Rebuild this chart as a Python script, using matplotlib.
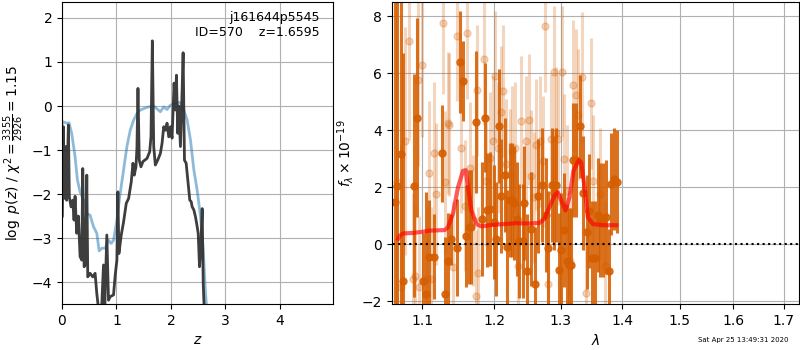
import numpy as np
import matplotlib
matplotlib.use('Agg')
import matplotlib.pyplot as plt
from matplotlib.ticker import NullLocator, FixedLocator, FixedFormatter

# p(z) curves (left panel)
pz_z = [0.006, 0.025, 0.037, 0.055, 0.068, 0.086, 0.117, 0.135, 0.166, 0.197, 0.221, 0.240,
        0.270, 0.301, 0.332, 0.363, 0.381, 0.406, 0.436, 0.455, 0.473, 0.516, 0.565, 0.608,
        0.639, 0.670, 0.731, 0.762, 0.786, 0.823, 0.854, 0.885, 0.946, 0.977, 1.008, 1.026,
        1.045, 1.088, 1.131, 1.180, 1.223, 1.272, 1.303, 1.327, 1.358, 1.376, 1.395, 1.419,
        1.450, 1.487, 1.561, 1.610, 1.634, 1.659, 1.684, 1.714, 1.757, 1.806, 1.837, 1.868,
        1.899, 1.929, 1.960, 1.991, 2.021, 2.040, 2.058, 2.083, 2.101, 2.126, 2.144, 2.175,
        2.206, 2.224, 2.249, 2.280, 2.310, 2.347, 2.372, 2.390, 2.421, 2.452, 2.482, 2.501,
        2.525, 2.550, 2.574, 2.593, 2.617]
pz_logp = [-2.5, -0.47, -2.1, -2.05, -0.92, -2.14, -0.43, -2.06, -2.29, -2.14, -2.59, -2.05,
           -2.89, -2.5, -3.42, -3.5, -1.42, -3.65, -3.58, -1.57, -3.88, -3.8, -3.88, -3.8,
           -4.26, -4.6, -4.5, -3.61, -4.52, -2.93, -4.41, -4.33, -4.29, -3.84, -3.5, -1.95,
           -3.35, -2.93, -2.63, -2.21, -2.1, -1.72, -1.3, -1.57, -1.38, -0.96, 0.4, -1.23,
           -1.38, -1.26, -1.19, -1.04, -0.7, 1.48, -0.92, -1.34, -1.23, -1.08, -0.85, -0.47,
           -0.55, -0.39, -0.7, -0.47, -0.73, -0.09, 0.52, -0.09, 0.7, -0.62, 0.0, -0.92,
           0.36, 1.21, -1.23, -1.3, -1.68, -2.14, -2.17, -2.29, -2.36, -2.52, -2.74, -2.89,
           -3.65, -3.2, -2.33, -4.03, -4.8]

chi_z = [0.0, 0.025, 0.086, 0.129, 0.178, 0.240, 0.283, 0.332, 0.424, 0.455, 0.516, 0.578,
         0.639, 0.682, 0.731, 0.793, 0.854, 0.903, 0.946, 1.008, 1.069, 1.131, 1.192, 1.253,
         1.315, 1.376, 1.438, 1.561, 1.684, 1.806, 1.868, 1.929, 1.991, 2.052, 2.114, 2.175,
         2.237, 2.298, 2.359, 2.421, 2.482, 2.544, 2.593, 2.636, 2.679]
chi_val = [-0.42, -0.36, -0.39, -0.38, -0.62, -1.15, -1.68, -1.95, -2.21, -2.44, -2.48, -2.74,
           -2.89, -3.29, -3.23, -3.23, -3.05, -3.12, -3.05, -2.59, -1.98, -1.45, -0.92, -0.55,
           -0.32, -0.17, -0.09, -0.03, 0.0, -0.13, -0.02, -0.08, 0.02, 0.04, 0.08, 0.08,
           -0.09, -0.32, -0.77, -1.45, -1.91, -2.52, -3.27, -4.26, -4.9]

# spectrum (right panel), dark points
wave_a = [1.0645, 1.0671, 1.0724, 1.0750, 1.0890, 1.0930, 1.1009, 1.1049, 1.1089, 1.1155,
          1.1262, 1.1302, 1.1343, 1.1384, 1.1479, 1.1520, 1.1562, 1.1603, 1.1645, 1.1673,
          1.1743, 1.1829, 1.1872, 1.1895, 1.1934, 1.1990, 1.2031, 1.2064,
          1.2103, 1.2152, 1.2191, 1.2225, 1.2264, 1.2288, 1.2330, 1.2362, 1.2421, 1.2442,
          1.2481, 1.2547, 1.2596, 1.2646, 1.2713, 1.2763, 1.2804, 1.2866, 1.2901, 1.2927,
          1.2968, 1.3005, 1.3057, 1.3093, 1.3125, 1.3163, 1.3188, 1.3243, 1.3296, 1.3349,
          1.3413, 1.3456, 1.3500, 1.3538, 1.3592, 1.3631, 1.3674, 1.3718, 1.3773, 1.3813,
          1.3857, 1.3907]
flux_a = [1.5, 2.06, 3.16, -1.3, 2.06, 4.45, -1.3, -1.76, -0.46, -0.43,
          3.2, -1.76, -0.6, 0.18, -0.12, 6.4, 5.72, 0.29, 0.61, 0.61,
          4.3, 0.9, 4.45, 1.19, 1.25, 0.8, 0.2, 4.16,
          1.68, 2.44, -0.08, 1.56, 1.56, 1.45, 0.9, 0.13, 0.13, 1.45,
          -0.95, 0.55, -1.38, 1.68, 2.08, 1.02, -0.12, 2.08, 1.8, 2.08,
          -0.89, -0.2, 0.5, -0.6, -0.72, -0.72, 2.95, 2.95, 4.14, 1.8,
          0.44, 1.16, -0.49, -0.49, 1.02, 0.84, 0.84, 0.96, -0.95, 2.12,
          2.29, 2.2]
err_a = [8.0, 7.0, 6.5, 8.0, 3.9, 3.5, 1.7, 3.6, 2.0, 1.5,
         1.7, 2.0, 1.7, 0.9, 1.7, 1.8, 1.4, 1.8, 2.0, 2.0,
         2.5, 2.0, 1.9, 2.0, 2.0, 2.0, 2.0, 2.0,
         2.0, 2.0, 2.0, 2.0, 2.0, 2.0, 2.0, 2.0, 2.0, 2.0,
         2.0, 2.0, 2.0, 2.0, 2.0, 2.0, 2.0, 2.0, 2.0, 2.0,
         2.0, 2.0, 2.0, 2.0, 2.0, 2.0, 2.0, 2.0, 1.8, 2.0,
         2.0, 2.0, 2.0, 2.0, 2.0, 2.0, 2.0, 2.0, 1.5, 1.8,
         1.8, 1.8]

# spectrum (right panel), faint points
wave_b = [1.0680, 1.0730, 1.0774, 1.0826, 1.0882, 1.0902, 1.0944, 1.0965, 1.1000, 1.1062,
          1.1090, 1.1120, 1.1155, 1.1192, 1.1275, 1.1304, 1.1349, 1.1370, 1.1412, 1.1480,
          1.1534, 1.1580, 1.1617, 1.1650, 1.1697, 1.1740, 1.1756, 1.1770, 1.1859, 1.1886,
          1.1934, 1.1981, 1.2016, 1.2054,
          1.2103, 1.2127, 1.2177, 1.2225, 1.2264, 1.2309, 1.2347, 1.2397, 1.2472, 1.2511,
          1.2547, 1.2581, 1.2622, 1.2672, 1.2722, 1.2748, 1.2798, 1.2850, 1.2886, 1.2927,
          1.2963, 1.3015, 1.3057, 1.3093, 1.3147, 1.3188, 1.3243, 1.3275, 1.3339, 1.3403,
          1.3473, 1.3510, 1.3620, 1.3702]
flux_b = [2.2, -1.5, 3.62, 7.15, -1.2, -1.12, 5.76, -1.5, 6.28, -1.2,
          2.52, -1.2, 3.2, 1.77, 7.78, 2.17, 4.25, 4.2, -0.8, 7.32,
          3.39, 1.36, 7.4, 2.69, 0.84, -1.8, 5.4, -1.0, 6.5, 2.23,
          3.04, 3.62, 5.9, 3.39,
          4.66, 5.38, 2.81, 2.46, 3.27, 3.39, -0.77, 4.31, 3.62, 4.37,
          2.4, 1.65, 3.5, 3.62, 2.92, 7.66, -1.41, 3.68, 6.05, 3.91,
          3.68, 6.05, 2.98, 1.88, -0.6, 5.58, 5.24, 4.54, 5.87, -1.7,
          4.95, 2.23, 1.77, -0.77]
err_b = [5.0, 5.0, 4.0, 3.5, 3.0, 2.5, 3.0, 2.5, 2.5, 2.5,
         2.5, 2.5, 2.5, 2.5, 2.5, 2.5, 2.5, 2.5, 2.3, 2.3,
         2.3, 2.3, 2.3, 2.3, 2.3, 2.3, 2.3, 2.3, 2.3, 2.3,
         2.3, 2.3, 2.3, 2.3,
         2.3, 2.3, 2.3, 2.3, 2.3, 2.3, 2.3, 2.3, 2.3, 2.3,
         2.3, 2.3, 2.3, 2.3, 2.3, 2.3, 2.3, 2.3, 2.3, 2.3,
         2.3, 2.3, 2.3, 2.3, 2.3, 2.3, 2.3, 2.3, 2.3, 2.3,
         2.3, 2.3, 2.3, 2.3]

# best-fit model
model_wave = [1.0690, 1.0708, 1.0751, 1.0882, 1.1013, 1.1102, 1.1304, 1.1349, 1.1418, 1.1487,
              1.1556, 1.1594, 1.1626, 1.1674, 1.1744, 1.1815, 1.1934, 1.2127, 1.2323, 1.2521,
              1.2672, 1.2748, 1.2824, 1.2901, 1.2952, 1.3005, 1.3073, 1.3136, 1.3199, 1.3285,
              1.3323, 1.3376, 1.3429, 1.3510, 1.3674, 1.3897]
model_flux = [0.2, 0.3, 0.38, 0.4, 0.44, 0.48, 0.5, 0.6, 1.08, 2.0,
              2.58, 2.6, 2.0, 1.19, 0.71, 0.63, 0.67, 0.71, 0.74, 0.73,
              0.75, 0.9, 1.31, 1.71, 1.83, 1.54, 1.19, 1.65, 2.58, 2.95,
              2.87, 2.0, 0.96, 0.71, 0.67, 0.67]

wave_ticks = [1.1, 1.2, 1.3, 1.4, 1.5, 1.6, 1.7]
g141_color = (0.8352941176470589, 0.3686274509803922, 0.0)

fig = plt.figure(figsize=(8, 3.5), dpi=100)

# left panel: p(z)
ax = fig.add_axes([0.0775, 0.131, 0.339, 0.863])
ax.plot(chi_z, chi_val, color='tab:blue', alpha=0.5, lw=2)
ax.plot(pz_z, pz_logp, color='0.2', alpha=0.95, lw=2)
ax.set_xlim(0, 4.98)
ax.set_ylim(-4.5, 2.36)
ax.set_xlabel(r'$z$')
ax.set_ylabel(r'$\log\ p(z)$ / $\chi^2=\frac{3355}{2926}=1.15$')
ax.text(0.95, 0.97, 'j161644p5545\nID=570    z=1.6595', ha='right', va='top',
        transform=ax.transAxes, fontsize=9)
ax.grid()

# right panel: spectrum
ax = fig.add_axes([0.49, 0.131, 0.5085, 0.863])
ax.errorbar(wave_b, flux_b, yerr=err_b, color=g141_color, alpha=0.25,
            marker='o', ms=5, linestyle='None', elinewidth=2.2)
ax.errorbar(wave_a, flux_a, yerr=err_a, color=g141_color, alpha=0.88,
            marker='o', ms=5, linestyle='None', elinewidth=2.2)
ax.plot(model_wave, model_flux, color='r', alpha=0.65, lw=3, zorder=10)
ax.plot([1.0, 2.0], [0, 0], color='k', linestyle=':', lw=1.5, zorder=11)

ax.set_xscale('log')
ax.xaxis.set_major_locator(FixedLocator(wave_ticks))
ax.xaxis.set_major_formatter(FixedFormatter([f'{t:.1f}' for t in wave_ticks]))
ax.xaxis.set_minor_locator(NullLocator())
ax.set_xlim(1.061, 1.731)
ax.set_ylim(-2.1, 8.5)
ax.set_xlabel(r'$\lambda$')
ax.set_ylabel(r'$f_\lambda\times10^{-19}$')
ax.grid()

fig.text(0.985, 0.028, 'Sat Apr 25 13:49:31 2020', ha='right', va='center', fontsize=5)

fig.savefig('out.png', dpi=100)
